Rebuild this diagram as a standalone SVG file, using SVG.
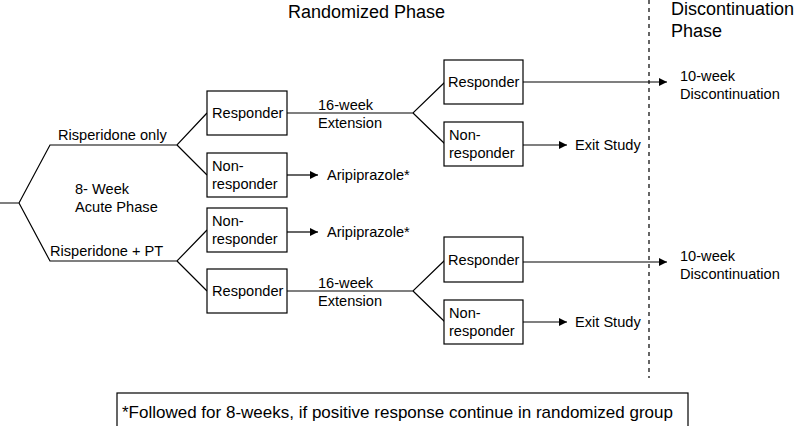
<svg xmlns="http://www.w3.org/2000/svg" width="800" height="426" viewBox="0 0 800 426">
<defs>
<style>
text{font-family:"Liberation Sans",Arial,sans-serif;fill:#000}
.t{font-size:14.6px}
.f{font-size:17px}
.h{font-size:18px}
.box{fill:#fff;stroke:#000;stroke-width:1.2}
.ln{fill:none;stroke:#000;stroke-width:1.2}
</style>
<marker id="arr" viewBox="0 0 10 10" refX="10" refY="5" markerWidth="10" markerHeight="8" markerUnits="userSpaceOnUse" orient="auto">
<path d="M0,0 L10,5 L0,10 z" fill="#000"/>
</marker>
</defs>
<rect width="800" height="426" fill="#fff"/>
<g id="headers">
<text class="h" x="288" y="18">Randomized Phase</text>
<text class="h" x="671" y="15">Discontinuation</text>
<text class="h" x="671" y="37">Phase</text>
</g>
<g id="connectors">
<line x1="649" y1="0" x2="649" y2="378" stroke="#000" stroke-width="1.2" stroke-dasharray="4,4"/>
<path class="ln" d="M0,203 H19 L50,145 H177 L207,113 M177,145 L207,175 M19,203 L50,261 H177 L207,230 M177,261 L207,291"/>
<path class="ln" d="M287,113 H413 L445,82 M413,113 L445,144"/>
<path class="ln" d="M287,291 H413 L445,260 M413,291 L445,322"/>
<line class="ln" x1="523" y1="82" x2="667" y2="82" marker-end="url(#arr)"/>
<line class="ln" x1="523" y1="145" x2="567" y2="145" marker-end="url(#arr)"/>
<line class="ln" x1="523" y1="262" x2="667" y2="262" marker-end="url(#arr)"/>
<line class="ln" x1="523" y1="322" x2="567" y2="322" marker-end="url(#arr)"/>
<line class="ln" x1="287" y1="175" x2="318" y2="175" marker-end="url(#arr)"/>
<line class="ln" x1="287" y1="232" x2="318" y2="232" marker-end="url(#arr)"/>
</g>
<g id="labels">
<text class="t" x="58" y="140">Risperidone only</text>
<text class="t" x="50" y="256">Risperidone + PT</text>
<text class="t" x="75" y="194">8- Week</text>
<text class="t" x="75" y="212">Acute Phase</text>
<text class="t" x="318" y="110">16-week</text>
<text class="t" x="318" y="128">Extension</text>
<text class="t" x="318" y="288">16-week</text>
<text class="t" x="318" y="306">Extension</text>
<text class="t" x="327" y="180">Aripiprazole*</text>
<text class="t" x="327" y="237">Aripiprazole*</text>
<text class="t" x="575" y="150">Exit Study</text>
<text class="t" x="575" y="327">Exit Study</text>
<text class="t" x="680" y="81">10-week</text>
<text class="t" x="680" y="99">Discontinuation</text>
<text class="t" x="680" y="261">10-week</text>
<text class="t" x="680" y="279">Discontinuation</text>
</g>
<g id="n1"><rect class="box" x="207" y="91" width="80" height="44"/><text class="t" x="212" y="118">Responder</text></g>
<g id="n2"><rect class="box" x="207" y="153" width="80" height="44"/><text class="t" x="212" y="171">Non-</text><text class="t" x="212" y="189">responder</text></g>
<g id="n3"><rect class="box" x="207" y="208" width="80" height="44"/><text class="t" x="212" y="226">Non-</text><text class="t" x="212" y="244">responder</text></g>
<g id="n4"><rect class="box" x="207" y="269" width="80" height="44"/><text class="t" x="212" y="296">Responder</text></g>
<g id="n5"><rect class="box" x="444" y="60" width="79" height="44"/><text class="t" x="448" y="87">Responder</text></g>
<g id="n6"><rect class="box" x="444" y="122" width="79" height="44"/><text class="t" x="449" y="140">Non-</text><text class="t" x="449" y="158">responder</text></g>
<g id="n7"><rect class="box" x="444" y="237" width="79" height="45"/><text class="t" x="448" y="265">Responder</text></g>
<g id="n8"><rect class="box" x="444" y="300" width="79" height="44"/><text class="t" x="449" y="318">Non-</text><text class="t" x="449" y="336">responder</text></g>
<g id="footnote"><rect class="box" x="117" y="393" width="571" height="40"/><text class="f" x="122" y="418">*Followed for 8-weeks, if positive response continue in randomized group</text></g>
</svg>
